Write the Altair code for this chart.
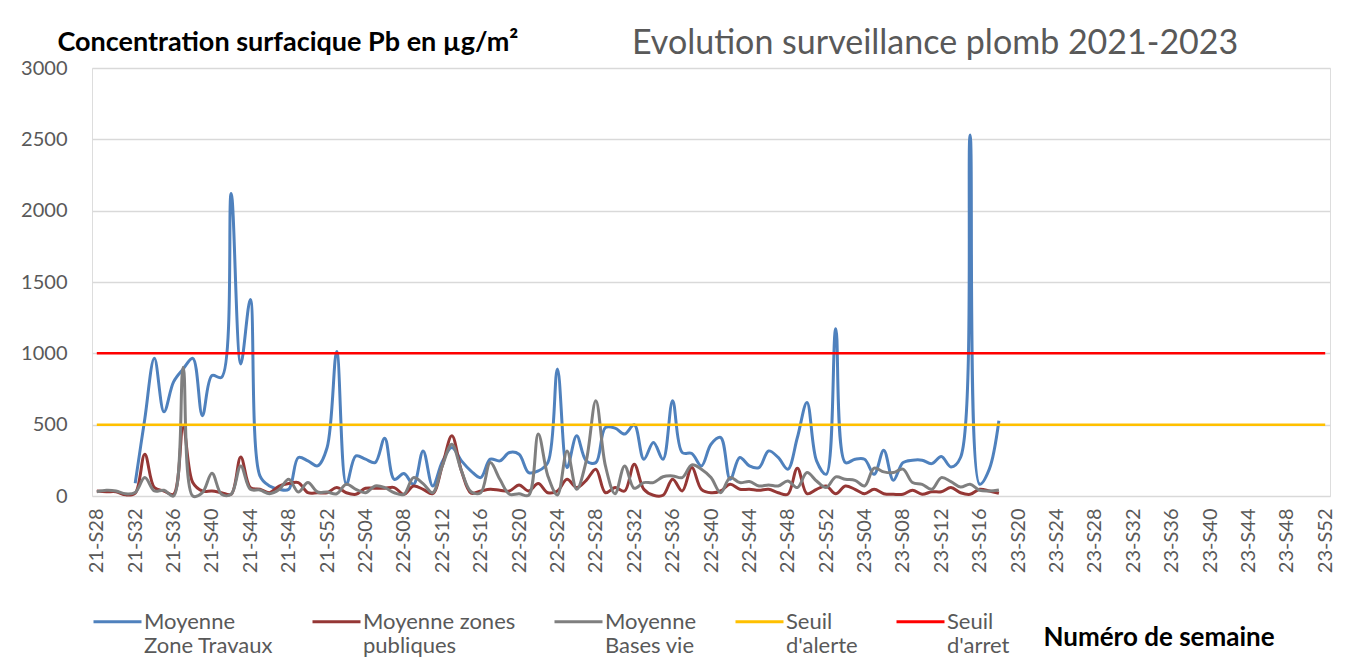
import json
import altair as alt
import pandas as pd

# ---- categories (weeks) ----
weeks = ([f"21-S{w:02d}" for w in range(28, 53)]
         + [f"22-S{w:02d}" for w in range(1, 53)]
         + [f"23-S{w:02d}" for w in range(1, 53)])

# ---- series values ----
zone_travaux = [None, None, None, None,
    90, 540, 965, 590, 800, 890, 965, 563, 844, 832, 2120, 926, 1378, 141, 70, 47,
    47, 270, 246, 211, 340, 1013, 82, 281, 258, 234, 405, 117, 157, 82, 316, 70,
    240, 340, 246, 175, 129, 258, 246, 305, 293, 164, 176, 234, 891, 199, 422, 246,
    234, 480, 476, 434, 499, 258, 375, 258, 668, 305, 298, 211, 363, 410, 117, 270,
    211, 199, 316, 270, 188, 410, 656, 246, 152, 1172, 234, 258, 258, 152, 321, 110,
    234, 251, 251, 227, 277, 204, 270, 2531, 82, 188, 527]

zones_publiques = [35, 30, 30, 8,
    20, 293, 59, 35, 12, 480, 94, 35, 35, 23, 12, 274, 59, 47, 23, 70,
    87, 94, 23, 23, 23, 59, 23, 12, 54, 54, 54, 59, 12, 70, 47, 16,
    211, 422, 176, 20, 35, 47, 40, 35, 77, 35, 87, 23, 35, 117, 59, 110,
    188, 23, 59, 35, 223, 47, 5, 5, 117, 35, 199, 47, 23, 35, 82, 47,
    47, 40, 47, 23, 12, 195, 16, 47, 70, 16, 70, 47, 16, 47, 16, 12,
    12, 40, 12, 30, 30, 59, 23, 12, 47, 35, 19]

bases_vie = [30, 40, 35, 15,
    25, 129, 35, 40, 0, 902, 0, 23, 159, 12, 12, 211, 47, 42, 16, 45,
    117, 28, 94, 28, 28, 16, 82, 47, 23, 70, 59, 23, 12, 129, 87, 23,
    211, 363, 176, 30, 23, 234, 117, 12, 16, 5, 434, 141, 7, 316, 47, 246,
    668, 211, 16, 211, 54, 94, 94, 135, 141, 129, 218, 188, 129, 23, 129, 94,
    101, 70, 77, 70, 105, 59, 164, 105, 59, 134, 117, 110, 70, 195, 169, 164,
    188, 94, 82, 47, 129, 101, 63, 82, 40, 35, 42]

seuil_alerte = [500] * len(weeks)
seuil_arret = [1000] * len(weeks)

series_names = ["Moyenne Zone Travaux", "Moyenne zones publiques",
                "Moyenne Bases vie", "Seuil d'alerte", "Seuil d'arret"]
series_colors = ["#4F81BD", "#953735", "#7F7F7F", "#FFC000", "#FF0000"]
legend_lines = {
    "Moyenne Zone Travaux": ["Moyenne", "Zone Travaux"],
    "Moyenne zones publiques": ["Moyenne zones", "publiques"],
    "Moyenne Bases vie": ["Moyenne", "Bases vie"],
    "Seuil d'alerte": ["Seuil", "d'alerte"],
    "Seuil d'arret": ["Seuil", "d'arret"],
}
y_ticks = [0, 500, 1000, 1500, 2000, 2500, 3000]

# ---- tables ----
def long_table(pairs):
    rows = []
    for name, vals in pairs:
        for wk, v in zip(weeks, vals):
            if v is not None:
                rows.append({"semaine": wk, "serie": name, "valeur": v})
    return pd.DataFrame(rows)

df_mesures = long_table([(series_names[0], zone_travaux),
                         (series_names[1], zones_publiques),
                         (series_names[2], bases_vie)])
df_seuils = long_table([(series_names[3], seuil_alerte),
                        (series_names[4], seuil_arret)])

label_expr = ""
for name, lines in legend_lines.items():
    label_expr += f"datum.label === {json.dumps(name)} ? {json.dumps(lines)} : "
label_expr += "datum.label"

FONT = "Lato"

x_enc = alt.X("semaine:N",
    scale=alt.Scale(type="point", domain=weeks, padding=0.5),
    axis=alt.Axis(values=weeks[::4], labelAngle=270, labelPadding=12,
                  labelFont=FONT, labelFontSize=20, labelColor="#595959",
                  labelOverlap=False, grid=False, domain=False, ticks=False,
                  title="Numéro de semaine", titleX=951, titleY=141,
                  titleAlign="left", titleBaseline="middle", titleFont=FONT,
                  titleFontSize=26, titleFontWeight="bold", titleColor="#000000"))

y_enc = alt.Y("valeur:Q",
    scale=alt.Scale(domain=[0, 3000]),
    axis=alt.Axis(values=y_ticks, format="d", grid=True, gridColor="#D9D9D9",
                  gridWidth=1.3, domain=False, ticks=False, labelPadding=25,
                  labelFont=FONT, labelFontSize=20, labelColor="#595959",
                  title="Concentration surfacique Pb en µg/m²", titleAngle=0,
                  titleAlign="left", titleBaseline="middle", titleX=-35, titleY=-26,
                  titleFont=FONT, titleFontSize=27, titleFontWeight="bold",
                  titleColor="#000000"))

color_enc = alt.Color("serie:N",
    scale=alt.Scale(domain=series_names, range=series_colors),
    legend=alt.Legend(title=None, orient="none", legendX=0, legendY=528,
                      direction="horizontal", symbolType="stroke",
                      symbolSize=2304, symbolStrokeWidth=3, labelFont=FONT,
                      labelFontSize=22, labelColor="#595959", labelExpr=label_expr,
                      labelLimit=400, labelOffset=1, columnPadding=32,
                      labelBaseline="middle", padding=0))

lines = alt.Chart(df_mesures).mark_line(interpolate="catmull-rom", strokeWidth=3).encode(
    x=x_enc, y=y_enc, color=color_enc)
seuils = alt.Chart(df_seuils).mark_line(strokeWidth=2.5).encode(
    x=x_enc, y=y_enc, color=color_enc)

chart = alt.layer(lines, seuils).properties(
    width=1238, height=428,
    title=alt.Title("Evolution surveillance plomb 2021-2023", anchor="start",
                    frame="group", dx=540, baseline="middle", offset=0, dy=50,
                    font=FONT, fontSize=34, fontWeight="normal", color="#595959"),
    autosize=alt.AutoSizeParams(type="none"),
    padding={"left": 84, "top": 60, "right": 15, "bottom": 162},
).configure_view(strokeWidth=0).configure(background="white")

chart.save("out.html", embed_options={"renderer": "svg", "actions": False})
